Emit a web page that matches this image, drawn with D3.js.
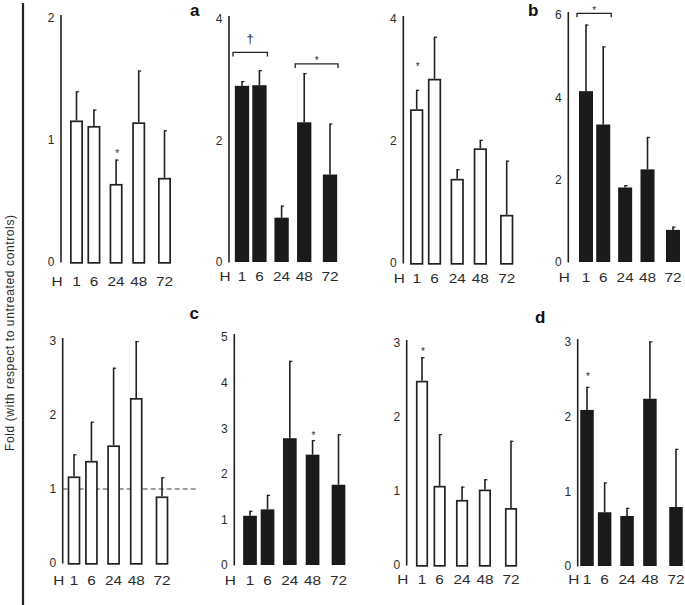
<!DOCTYPE html>
<html><head><meta charset="utf-8">
<script src="https://cdn.jsdelivr.net/npm/d3@7"></script>
<style>
html,body{margin:0;padding:0;background:#fff;}
svg{display:block;font-family:"Liberation Sans",Arial,Helvetica,sans-serif;}
</style></head>
<body>
<script>
// ---------- DATA ----------
const hours = ["1", "6", "24", "48", "72"];
const yTitle = "Fold (with respect to untreated controls)";

// Row 1 (a, b)
const aOpenMean  = [1.16, 1.115, 0.64, 1.145, 0.69];
const aOpenSD    = [0.24, 0.135, 0.20, 0.425, 0.39];
const aSolidMean = [2.90, 2.91, 0.73, 2.30, 1.44];
const aSolidSD   = [0.08, 0.25, 0.20, 0.81, 0.84];
const bOpenMean  = [2.52, 3.02, 1.38, 1.88, 0.79];
const bOpenSD    = [0.32, 0.69, 0.16, 0.14, 0.89];
const bSolidMean = [4.15, 3.34, 1.81, 2.25, 0.78];
const bSolidSD   = [1.62, 1.90, 0.06, 0.79, 0.08];
// Row 2 (c, d)
const cOpenMean  = [1.17, 1.38, 1.59, 2.23, 0.90];
const cOpenSD    = [0.30, 0.53, 1.05, 0.77, 0.26];
const cSolidMean = [1.08, 1.22, 2.78, 2.42, 1.76];
const cSolidSD   = [0.11, 0.32, 1.70, 0.32, 1.11];
const dOpenMean  = [2.49, 1.07, 0.88, 1.02, 0.77];
const dOpenSD    = [0.32, 0.70, 0.18, 0.14, 0.91];
const dSolidMean = [2.09, 0.72, 0.67, 2.24, 0.79];
const dSolidSD   = [0.31, 0.40, 0.11, 0.77, 0.78];

// y-axis tick labels per panel
const ticks2 = [0, 1, 2];
const ticks4 = [0, 2, 4];
const ticks6 = [0, 2, 4, 6];
const ticks3 = [0, 1, 2, 3];
const ticks5 = [0, 1, 2, 3, 4, 5];

// significance marks (level = data value of the mark centre)
const stars = [
  {panel: "aOpen",  hour: "24", level: 0.90},
  {panel: "bOpen",  hour: "1",  level: 3.25},
  {panel: "cSolid", hour: "48", level: 2.87},
  {panel: "dOpen",  hour: "1",  level: 2.91},
  {panel: "dSolid", hour: "1",  level: 2.56}
];
const brackets = [
  {panel: "aSolid", from: "1",  to: "6",  level: 3.45, mark: "\u2020"},
  {panel: "aSolid", from: "48", to: "72", level: 3.26, mark: "*"},
  {panel: "bSolid", from: "1",  to: "6",  level: 6.04, mark: "*"}
];
const refLine = {panel: "cOpen", level: 1};

// ---------- LAYOUT ----------
const slotFrac = [0, 0.198, 0.45, 0.707, 1];
const panels = [
  {id:"aOpen",  mean:aOpenMean,  sd:aOpenSD,  solid:false, max:2, ticks:ticks2, axisX:61,    y0:262, yTop:18,  x1:76.5, x5:164.5, bw:13,   labelY:282},
  {id:"aSolid", mean:aSolidMean, sd:aSolidSD, solid:true,  max:4, ticks:ticks4, axisX:229,   y0:262, yTop:19,  x1:242,  x5:330,   bw:14.3, labelY:277},
  {id:"bOpen",  mean:bOpenMean,  sd:bOpenSD,  solid:false, max:4, ticks:ticks4, axisX:403.3, y0:263, yTop:19,  x1:416.7,x5:506.7, bw:13.3, labelY:279},
  {id:"bSolid", mean:bSolidMean, sd:bSolidSD, solid:true,  max:6, ticks:ticks6, axisX:568.3, y0:262, yTop:15,  x1:586,  x5:673,   bw:14,   labelY:277.5},
  {id:"cOpen",  mean:cOpenMean,  sd:cOpenSD,  solid:false, max:3, ticks:ticks3, axisX:62.7,  y0:563, yTop:341, x1:74,   x5:162,   bw:12.7, labelY:581},
  {id:"cSolid", mean:cSolidMean, sd:cSolidSD, solid:true,  max:5, ticks:ticks5, axisX:234.3, y0:565, yTop:337, x1:250,  x5:338.5, bw:13.7, labelY:581},
  {id:"dOpen",  mean:dOpenMean,  sd:dOpenSD,  solid:false, max:3, ticks:ticks3, axisX:406.7, y0:565, yTop:343, x1:422,  x5:511,   bw:12.2, labelY:580},
  {id:"dSolid", mean:dSolidMean, sd:dSolidSD, solid:true,  max:3, ticks:ticks3, axisX:577.7, y0:566, yTop:342, x1:587,  x5:676,   bw:13.5, labelY:580}
];
const panelLetters = [
  {t:"a", x:190,   y:15.5},
  {t:"b", x:528,   y:15.5},
  {t:"c", x:189.5, y:318.5},
  {t:"d", x:535,   y:323}
];

const ink = "#222", solidFill = "#1a1a1a", textCol = "#2b2b2b";
const labelStretch = 1.28;

const svg = d3.select("body").append("svg").attr("width", 685).attr("height", 605);

// left divider and y title
svg.append("line").attr("x1", 23).attr("x2", 23).attr("y1", 3).attr("y2", 605)
  .attr("stroke", ink).attr("stroke-width", 2.2);
svg.append("text").attr("transform", "translate(13.5,333) rotate(-90)")
  .attr("text-anchor", "middle").attr("font-size", 12).attr("fill", textCol)
  .attr("textLength", 236).attr("lengthAdjust", "spacing")
  .text(yTitle);

const scales = {};
panels.forEach(p => {
  const y = d3.scaleLinear().domain([0, p.max]).range([p.y0, p.yTop]);
  const x = d3.scaleOrdinal().domain(hours).range(slotFrac.map(f => p.x1 + f * (p.x5 - p.x1)));
  scales[p.id] = {x, y, p};
  const g = svg.append("g");

  // axis line
  g.append("line").attr("x1", p.axisX).attr("x2", p.axisX)
    .attr("y1", y(p.max) - 3).attr("y2", y(0) + 0.5)
    .attr("stroke", ink).attr("stroke-width", 1.6);

  // tick labels
  const ax = g.append("g").attr("transform", `translate(${p.axisX},0)`)
    .call(d3.axisLeft(y).tickValues(p.ticks).tickSize(0).tickPadding(6.5).tickFormat(d3.format("d")));
  ax.select(".domain").remove();
  ax.selectAll("text").attr("font-size", 12).attr("fill", textCol)
    .attr("font-family", "Liberation Sans, Arial, sans-serif");

  // reference dashed line
  if (refLine.panel === p.id) {
    g.append("line").attr("x1", p.axisX).attr("x2", 196)
      .attr("y1", y(refLine.level)).attr("y2", y(refLine.level))
      .attr("stroke", "#444").attr("stroke-width", 1.2).attr("stroke-dasharray", "5,3");
  }

  const rows = hours.map((h, i) => ({h, m: p.mean[i], s: p.sd[i]}));

  // error bars
  g.selectAll(".err").data(rows).join("line")
    .attr("x1", d => x(d.h)).attr("x2", d => x(d.h))
    .attr("y1", d => y(d.m)).attr("y2", d => y(d.m + d.s))
    .attr("stroke", ink).attr("stroke-width", 1.6);
  g.selectAll(".cap").data(rows).join("line")
    .attr("x1", d => x(d.h) - 0.5).attr("x2", d => x(d.h) + 2.5)
    .attr("y1", d => y(d.m + d.s) + 0.6).attr("y2", d => y(d.m + d.s) + 0.6)
    .attr("stroke", ink).attr("stroke-width", 1.2);

  // bars
  const sw = p.solid ? 0 : 1.7;
  g.selectAll(".bar").data(rows).join("rect")
    .attr("x", d => x(d.h) - p.bw / 2 + sw / 2)
    .attr("width", p.bw - sw)
    .attr("y", d => y(d.m) + sw / 2)
    .attr("height", d => y(0) - y(d.m))
    .attr("fill", p.solid ? solidFill : "#fff")
    .attr("stroke", p.solid ? "none" : ink)
    .attr("stroke-width", sw);

  // x labels (horizontally stretched like the source figure)
  g.selectAll(".xl").data(hours).join("text")
    .attr("transform", d => `translate(${x(d)},${p.labelY + 4.3}) scale(${labelStretch},1)`)
    .attr("text-anchor", "middle").attr("font-size", 12).attr("fill", textCol)
    .text(d => d);
  g.append("text")
    .attr("transform", `translate(${p.axisX - 4},${p.labelY + 4.3}) scale(${labelStretch},1)`)
    .attr("text-anchor", "middle").attr("font-size", 12).attr("fill", textCol).text("H");
});

// stars
stars.forEach(s => {
  const {x, y} = scales[s.panel];
  svg.append("text").attr("x", x(s.hour) + 1).attr("y", y(s.level) + 5)
    .attr("text-anchor", "middle").attr("font-size", 10).attr("fill", textCol).text("*");
});

// brackets
brackets.forEach(b => {
  const {x, y} = scales[b.panel];
  const xa = x(b.from) - 9, xb = x(b.to) + 8, yy = y(b.level);
  svg.append("path").attr("d", `M${xa},${yy + 4}V${yy}H${xb}V${yy + 4}`)
    .attr("fill", "none").attr("stroke", ink).attr("stroke-width", 1.3);
  const isDagger = b.mark !== "*";
  svg.append("text").attr("x", (xa + xb) / 2)
    .attr("y", isDagger ? yy - 9.5 : yy + 0.5)
    .attr("text-anchor", "middle").attr("font-size", isDagger ? 13 : 10).attr("fill", textCol)
    .text(b.mark);
});

// panel letters
svg.selectAll(".pl").data(panelLetters).join("text")
  .attr("x", d => d.x).attr("y", d => d.y)
  .attr("font-size", 17).attr("font-weight", "bold").attr("fill", "#111")
  .text(d => d.t);
</script>
</body></html>
